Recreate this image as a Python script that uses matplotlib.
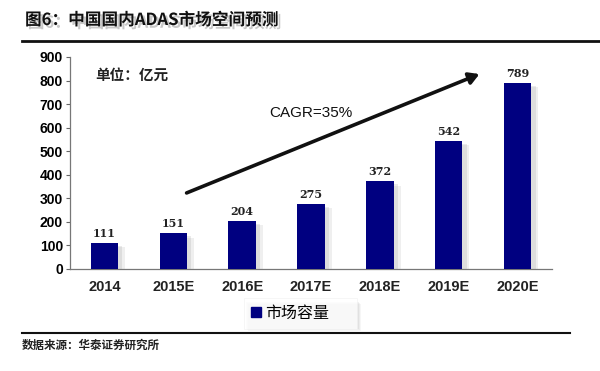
import matplotlib
matplotlib.use("Agg")
import matplotlib.pyplot as plt
import matplotlib.patheffects as pe
from matplotlib.patches import FancyArrowPatch, Rectangle
from matplotlib.lines import Line2D

plt.rcParams['font.family'] = ['Noto Sans CJK SC', 'DejaVu Sans']

categories = ["2014", "2015E", "2016E", "2017E", "2018E", "2019E", "2020E"]
values = [111, 151, 204, 275, 372, 542, 789]
y_ticks = [0, 100, 200, 300, 400, 500, 600, 700, 800, 900]
series_name = "市场容量"
title = "图6：中国国内ADAS市场空间预测"
unit_text = "单位：亿元"
cagr_text = "CAGR=35%"
source_text = "数据来源：华泰证券研究所"

W, H = 600, 371
fig = plt.figure(figsize=(6, 3.71), dpi=100)
fig.patch.set_facecolor("white")

ax = fig.add_axes([70 / W, 1 - 269 / H, (552 - 70) / W, (269 - 57) / H])
x = list(range(len(categories)))
bar_color = "#000080"
bars = ax.bar(x, values, width=0.4, color=bar_color, zorder=3)
for b in bars:
    b.set_path_effects([
        pe.SimplePatchShadow(offset=(5, -3), shadow_rgbFace="#999999", alpha=0.15),
        pe.SimplePatchShadow(offset=(3, -2), shadow_rgbFace="#999999", alpha=0.2),
        pe.Normal()])

ax.set_xlim(-0.5, len(categories) - 0.5)
ax.set_ylim(0, 900)
ax.set_yticks(y_ticks)
ax.set_yticklabels([str(v) for v in y_ticks], fontsize=10, fontweight="bold", family="Liberation Sans")
ax.set_xticks(x)
ax.set_xticklabels(categories, fontsize=10.5, fontweight="bold", family="Liberation Sans", color="#222222")
ax.tick_params(axis="x", length=0, pad=8)
ax.tick_params(axis="y", length=3, width=0.8, color="#666666", pad=2)
for s in ["top", "right"]:
    ax.spines[s].set_visible(False)
ax.spines["left"].set_color("#777777")
ax.spines["bottom"].set_color("#777777")
ax.spines["left"].set_linewidth(0.9)
ax.spines["bottom"].set_linewidth(0.9)
ax.set_facecolor("none")

for xi, v in zip(x, values):
    ax.text(xi, v + 18, str(v), ha="center", va="bottom", fontsize=8, fontweight="bold",
            family="DejaVu Serif", color="#222222")

# unit text
fig.text(95 / W, 1 - 75 / H, unit_text, fontsize=10.5, fontweight="bold", ha="left", va="center", color="#222222")

# arrow
arr = FancyArrowPatch((184 / W, 1 - 194 / H), (482 / W, 1 - 73 / H), transform=fig.transFigure,
                      arrowstyle="-|>,head_length=6,head_width=3.5", lw=2.6, color="#111111",
                      mutation_scale=1)
fig.add_artist(arr)
fig.text(269 / W, 1 - 113 / H, cagr_text, fontsize=11, ha="left", va="center", family="Liberation Sans",
         color="#111111")

# title
t = fig.text(25 / W, 1 - 20 / H, title, fontsize=12, fontweight="heavy", ha="left", va="center", color="#111111")
t.set_path_effects([pe.withSimplePatchShadow(offset=(2, -2), shadow_rgbFace="#777777", alpha=0.4)])
fig.add_artist(Line2D([22 / W, 1.0], [1 - 41 / H, 1 - 41 / H], transform=fig.transFigure, color="#111111", lw=2))

# legend shadow (soft)
for off, a in [(4, 0.07), (3, 0.09), (2, 0.11)]:
    fig.add_artist(Rectangle(((244 + off) / W, 1 - (327 + off) / H), 113 / W, 27 / H,
                             transform=fig.transFigure, facecolor="#888888", edgecolor="none", alpha=a))
# legend
handle = plt.Rectangle((0, 0), 1, 1, color=bar_color)
leg = fig.legend([handle], [series_name], loc="center", bbox_to_anchor=(244 / W, 1 - 327 / H, 113 / W, 27 / H),
                 mode="expand", fontsize=11.5, frameon=True, fancybox=False, shadow=False,
                 handlelength=0.6, handleheight=0.6, handletextpad=0.3, borderpad=0.45, borderaxespad=0)
leg.get_frame().set_edgecolor("#f0f0f0")
leg.get_frame().set_linewidth(0.5)
leg.get_frame().set_facecolor("white")
leg.set_zorder(5)

# bottom line and source
fig.add_artist(Line2D([22 / W, 570 / W], [1 - 333 / H, 1 - 333 / H], transform=fig.transFigure, color="#111111", lw=1.5))
fig.text(22 / W, 1 - 345 / H, source_text, fontsize=8.3, fontweight="bold", style="italic", ha="left", va="center",
         color="#222222")

fig.savefig("out.png", dpi=100, facecolor="white")
